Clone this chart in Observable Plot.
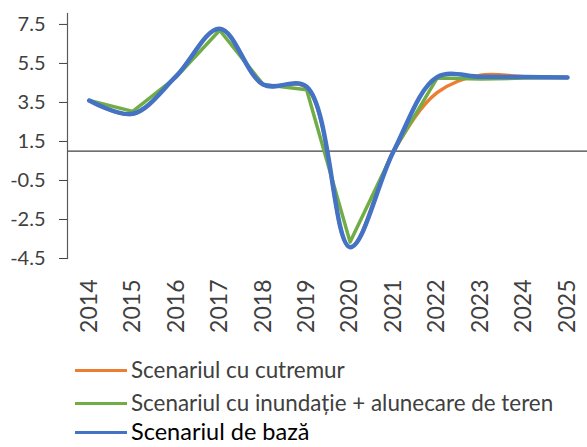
<!DOCTYPE html>
<html>
<head>
<meta charset="utf-8">
<script src="https://cdn.jsdelivr.net/npm/d3@7"></script>
<script src="https://cdn.jsdelivr.net/npm/@observablehq/plot@0.6"></script>
<style>
  html, body { margin: 0; padding: 0; background: #fff; overflow: hidden; }
  #wrap { position: relative; width: 587px; height: 447px; }
  #legend { position: absolute; left: 0; top: 0; width: 587px; height: 447px; pointer-events: none; }
  .row { position: absolute; left: 75px; display: flex; align-items: center; font-family: Lato, sans-serif; white-space: nowrap; line-height: 1; }
  .sw { width: 52px; height: 3px; margin-right: 4px; }
</style>
</head>
<body>
<div id="wrap"><div id="chart"></div><div id="legend"></div></div>
<script>
const years = [2014, 2015, 2016, 2017, 2018, 2019, 2020, 2021, 2022, 2023, 2024, 2025];
const cutremur  = [3.6, 2.9, 4.85, 7.28, 4.42, 4.25, -3.92, 1.0, 4.0, 4.9, 4.82, 4.78];
const inundatie = [3.6, 3.04, 4.8, 7.2, 4.42, 4.15, -3.66, 1.0, 4.75, 4.7, 4.75, 4.78];
const baza      = [3.6, 2.92, 4.85, 7.28, 4.42, 4.3, -3.92, 1.0, 4.8, 4.82, 4.8, 4.78];
const seriesNames = ["Scenariul cu cutremur", "Scenariul cu inundație + alunecare de teren", "Scenariul de bază"];
const seriesColors = ["#ED7D31", "#70AD47", "#4472C4"];
const yTicks = [-4.5, -2.5, -0.5, 1.5, 3.5, 5.5, 7.5];
const axisCross = 1.0;

const rows = (vals) => years.map((year, i) => ({year, value: vals[i]}));

const chart = Plot.plot({
  width: 587,
  height: 340,
  marginLeft: 67,
  marginRight: 0,
  marginTop: 13,
  marginBottom: 82,
  x: {type: "linear", domain: [2013.5, 2025.46], axis: null},
  y: {domain: [-4.5, 8.06], axis: null},
  style: {fontFamily: "Lato, sans-serif", fontSize: "20px", color: "#404040", background: "#fff"},
  marks: [
    Plot.ruleY([axisCross], {stroke: "#404040", strokeWidth: 1.3}),
    Plot.frame({anchor: "left", stroke: "#595959", strokeWidth: 1.2}),
    Plot.axisY({ticks: yTicks, tickFormat: d => d.toFixed(1), tickSize: 8, tickPadding: 14, label: null, fontSize: 20, color: "#404040"}),
    Plot.axisX({ticks: years, tickFormat: d => String(d), tickRotate: -90, tickSize: 0, tickPadding: 21, label: null, fontSize: 23, color: "#404040"}),
    Plot.line(rows(cutremur), {x: "year", y: "value", stroke: seriesColors[0], strokeWidth: 3.5, curve: "catmull-rom"}),
    Plot.line(rows(inundatie), {x: "year", y: "value", stroke: seriesColors[1], strokeWidth: 3.5, curve: "linear"}),
    Plot.line(rows(baza), {x: "year", y: "value", stroke: seriesColors[2], strokeWidth: 4.5, curve: "catmull-rom"})
  ]
});
document.getElementById("chart").appendChild(chart);

const legend = document.getElementById("legend");
const rowCenters = [370, 403, 432];
const rowSizes = [22.4, 22.4, 23.5];
const rowColors = ["#404040", "#404040", "#000"];
seriesNames.forEach((name, i) => {
  const r = document.createElement("div");
  r.className = "row";
  r.style.fontSize = rowSizes[i] + "px";
  r.style.height = Math.round(rowSizes[i]) + "px";
  r.style.top = (rowCenters[i] - Math.round(rowSizes[i]) / 2) + "px";
  r.style.color = rowColors[i];
  const sw = document.createElement("span");
  sw.className = "sw";
  sw.style.background = seriesColors[i];
  const t = document.createElement("span");
  t.textContent = name;
  r.appendChild(sw);
  r.appendChild(t);
  legend.appendChild(r);
});
</script>
</body>
</html>
